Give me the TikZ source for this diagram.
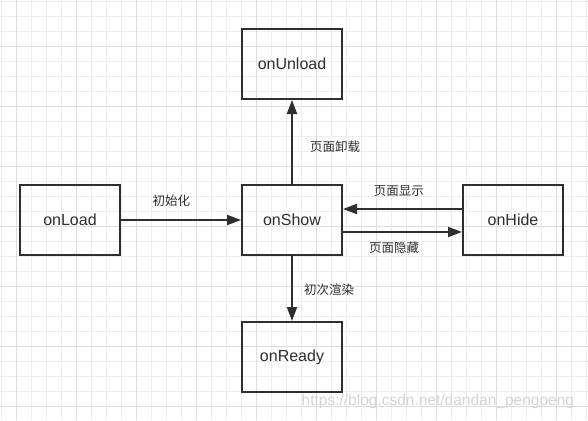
\documentclass[tikz,border=0pt]{standalone}
\usepackage{fontspec}
\setmainfont{Liberation Sans}
\newfontfamily\cjk{Noto Sans CJK SC}
\usetikzlibrary{arrows.meta}

\begin{document}
\begin{tikzpicture}[x=1pt, y=-1pt,
        minorgrid/.style = {draw=black!7, line width=0.8pt},
        majorgrid/.style = {draw=black!13, line width=0.8pt},
        box/.style = {shape=rectangle, draw=black!82, line width=2pt,
            minimum width=100pt, minimum height=70pt, text=black!82,
            font=\fontsize{16}{19}\selectfont},
        lbl/.style = {text=black!82, inner sep=0pt, font=\cjk\fontsize{12.5}{15}\selectfont},
        link/.style = {draw=black!82, line width=2pt, -{Triangle[length=14pt, width=10pt]}}]
        \useasboundingbox (0,0) rectangle (588,420);
        \fill[white] (0,0) rectangle (588,420);
        % background grid
        \foreach \k in {0,...,39} \draw[minorgrid] ({1.7+15*\k},0) -- ({1.7+15*\k},420);
        \foreach \k in {0,...,27} \draw[minorgrid] (0,{1.7+15*\k}) -- (588,{1.7+15*\k});
        \foreach \k in {1,5,...,37} \draw[majorgrid] ({1.7+15*\k},0) -- ({1.7+15*\k},420);
        \foreach \k in {3,7,...,27} \draw[majorgrid] (0,{1.7+15*\k}) -- (588,{1.7+15*\k});
        % pages
        \node [box] (unload) at (292,64) {onUnload};
        \node [box] (load) at (70,220) {onLoad};
        \node [box] (show) at (292,220) {onShow};
        \node [box] (hide) at (513,220) {onHide};
        \node [box] (ready) at (292,357) {onReady};
        % transitions
        \draw [link] (load) -- node [lbl, pos=0.42, above=12pt] {初始化} (show);
        \draw [link] (show) -- node [lbl, pos=0.44, right=17pt] {页面卸载} (unload);
        \draw [link] ([yshift=11pt]hide.west) -- node [lbl, pos=0.53, above=11pt] {页面显示} ([yshift=11pt]show.east);
        \draw [link] ([yshift=-12pt]show.east) -- node [lbl, pos=0.43, below=9pt] {页面隐藏} ([yshift=-12pt]hide.west);
        \draw [link] (show) -- node [lbl, pos=0.52, right=11pt] {初次渲染} (ready);
        % watermark
        \node [text=black!17, inner sep=0pt, anchor=west, font=\fontsize{15.5}{18}\selectfont]
            (mark) at (301.5,401.5) {https://blog.csdn.net/dandan\_pengpeng};
\end{tikzpicture}
\end{document}
